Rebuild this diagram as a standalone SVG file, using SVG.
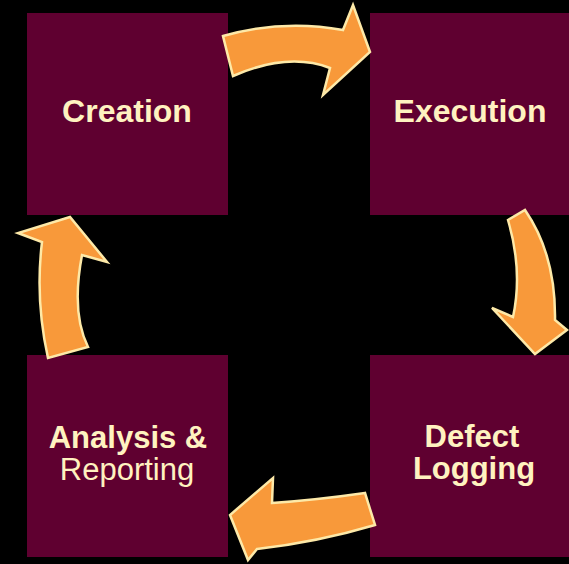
<svg xmlns="http://www.w3.org/2000/svg" width="569" height="564" viewBox="0 0 569 564">
<style>
.box{fill:#5f0030}
.lbl{font-family:"Liberation Sans",Arial,sans-serif;font-size:31px;font-weight:bold;fill:#fff2c0;text-anchor:middle}
.reg{font-weight:normal;font-size:31px}
.arr{fill:#f8993a;stroke:#fde9a8;stroke-width:2.5;stroke-linejoin:miter}
</style>
<rect width="569" height="564" fill="#000"/>
<g id="creation">
<rect class="box" x="27" y="13" width="201" height="202"/>
<text class="lbl" x="127" y="122" style="font-size:32px">Creation</text>
</g>
<g id="execution">
<rect class="box" x="370" y="13" width="201" height="202"/>
<text class="lbl" x="470" y="122" style="font-size:32px">Execution</text>
</g>
<g id="defect-logging">
<rect class="box" x="370" y="355" width="201" height="202"/>
<text class="lbl" x="472" y="447">Defect</text>
<text class="lbl" x="474" y="479">Logging</text>
</g>
<g id="analysis-reporting">
<rect class="box" x="27" y="355" width="201" height="202"/>
<text class="lbl" x="128" y="448">Analysis &amp;</text>
<text class="lbl reg" x="127" y="480">Reporting</text>
</g>
<g id="connectors">
<path class="arr" d="M223,36 Q283,19 343,30 L353,5 L370,52 L323,95 L330,68 Q288,52 233,76 Z"/>
<path class="arr" d="M508,220 L525,210 Q556,255 555,320 L567,330 L535,354 L492,308 L513,317 Q523,271 508,220 Z"/>
<path class="arr" d="M365,493 Q316,500 272,503 L273,478 L230,515 L248,560 L257,549 Q318,542 375,525 Z"/>
<path class="arr" d="M48,358 Q35,300 42,242 L18,233 L70,217 L107,262 L82,255 Q71,313 88,347 Z"/>
</g>
</svg>
